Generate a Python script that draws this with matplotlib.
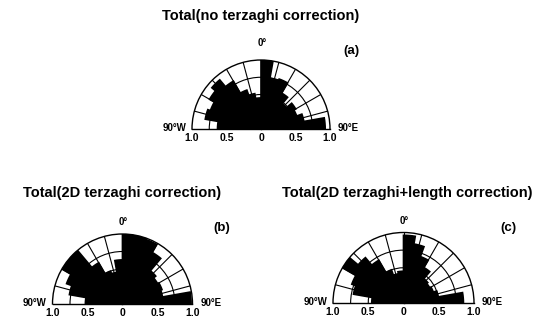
import numpy as np
import matplotlib
matplotlib.use('Agg')
import matplotlib.pyplot as plt

plt.rcParams['font.family'] = ['Liberation Sans', 'DejaVu Sans']
plt.rcParams['font.weight'] = 'bold'

# bin centres, degrees from north (negative = west), 10 degree bins
bin_centres = np.arange(-85, 90, 10)
bin_width = 10

# normalised frequency per bin
freq_a = [0.63, 0.82, 0.78, 0.86, 0.93, 0.80, 0.60, 0.52, 0.45,
          1.00, 0.75, 0.77, 0.60, 0.48, 0.58, 0.55, 0.63, 0.93]
freq_b = [0.53, 0.77, 0.85, 1.00, 1.00, 0.68, 0.50, 0.46, 0.63,
          1.00, 1.00, 0.98, 0.85, 0.62, 0.58, 0.60, 0.58, 0.98]
freq_c = [0.45, 0.72, 0.78, 1.00, 0.84, 0.70, 0.50, 0.42, 0.45,
          0.96, 0.85, 0.70, 0.58, 0.45, 0.43, 0.45, 0.50, 0.85]

titles = ['Total(no terzaghi correction)',
          'Total(2D terzaghi correction)',
          'Total(2D terzaghi+length correction)']
tags = ['(a)', '(b)', '(c)']
r_ticks = [1.0, 0.5, 0, 0.5, 1.0]

W, H = 544, 322
fig = plt.figure(figsize=(W / 100, H / 100), dpi=100)

# centre x, centre y (pixels from top), radius, title pos, tag pos, 0deg gap
panels = [
    (261, 129, 69, (261, 16), (351, 51), 17),
    (122.5, 304, 70, (122, 193), (222, 228), 12),
    (403.5, 303, 70.5, (407, 193), (508, 228), 11),
]


def rose(freq, cx, cy, R, title, tp, tag, tgp, zgap):
    # polar axes keeps a square box; the half disc sits in its middle
    top = cy - 1.5 * R
    ax = fig.add_axes([(cx - R) / W, (H - top - 2 * R) / H, 2 * R / W, 2 * R / H],
                      projection='polar')
    ax.set_theta_zero_location('N')
    ax.set_theta_direction(-1)
    ax.set_thetamin(-90)
    ax.set_thetamax(90)
    ax.set_axisbelow(True)
    ax.bar(np.deg2rad(bin_centres), freq, width=np.deg2rad(bin_width),
           color='black', edgecolor='black', linewidth=1.2, zorder=2)
    ax.set_ylim(0, 1.0)
    ax.set_rgrids([0.25, 0.5, 0.75], labels=[])
    ax.set_thetagrids(np.arange(-75, 76, 15), labels=[])
    ax.grid(True, color='black', linewidth=0.8)
    for s in ax.spines.values():
        s.set_color('black')
        s.set_linewidth(1.0)

    # distance labels under the base line
    for i, lbl in enumerate(r_ticks):
        th = -90 if i < 2 else 90
        ax.annotate(str(lbl), xy=(np.deg2rad(th), r_ticks[i]), xytext=(0, -9),
                    textcoords='offset pixels', ha='center', va='center',
                    fontsize=7.5, fontweight='bold', annotation_clip=False)
    ax.annotate('90°W', xy=(np.deg2rad(-90), 1.0), xytext=(-6, 1),
                textcoords='offset pixels', ha='right', va='center',
                fontsize=7, fontweight='bold', annotation_clip=False)
    ax.annotate('90°E', xy=(np.deg2rad(90), 1.0), xytext=(8, 1),
                textcoords='offset pixels', ha='left', va='center',
                fontsize=7, fontweight='bold', annotation_clip=False)
    ax.annotate('0°', xy=(0, 1.0), xytext=(1, zgap),
                textcoords='offset pixels', ha='center', va='center',
                fontsize=7, fontweight='bold', annotation_clip=False)

    fig.text(tp[0] / W, 1 - tp[1] / H, title, ha='center', va='center',
             fontsize=10.5, fontweight='bold')
    fig.text(tgp[0] / W, 1 - tgp[1] / H, tag, ha='center', va='center',
             fontsize=9.5, fontweight='bold')


for f, (cx, cy, R, tp, tgp, zg), t, tg in zip([freq_a, freq_b, freq_c], panels, titles, tags):
    rose(f, cx, cy, R, t, tp, tg, tgp, zg)

fig.savefig('out.png', dpi=100)
